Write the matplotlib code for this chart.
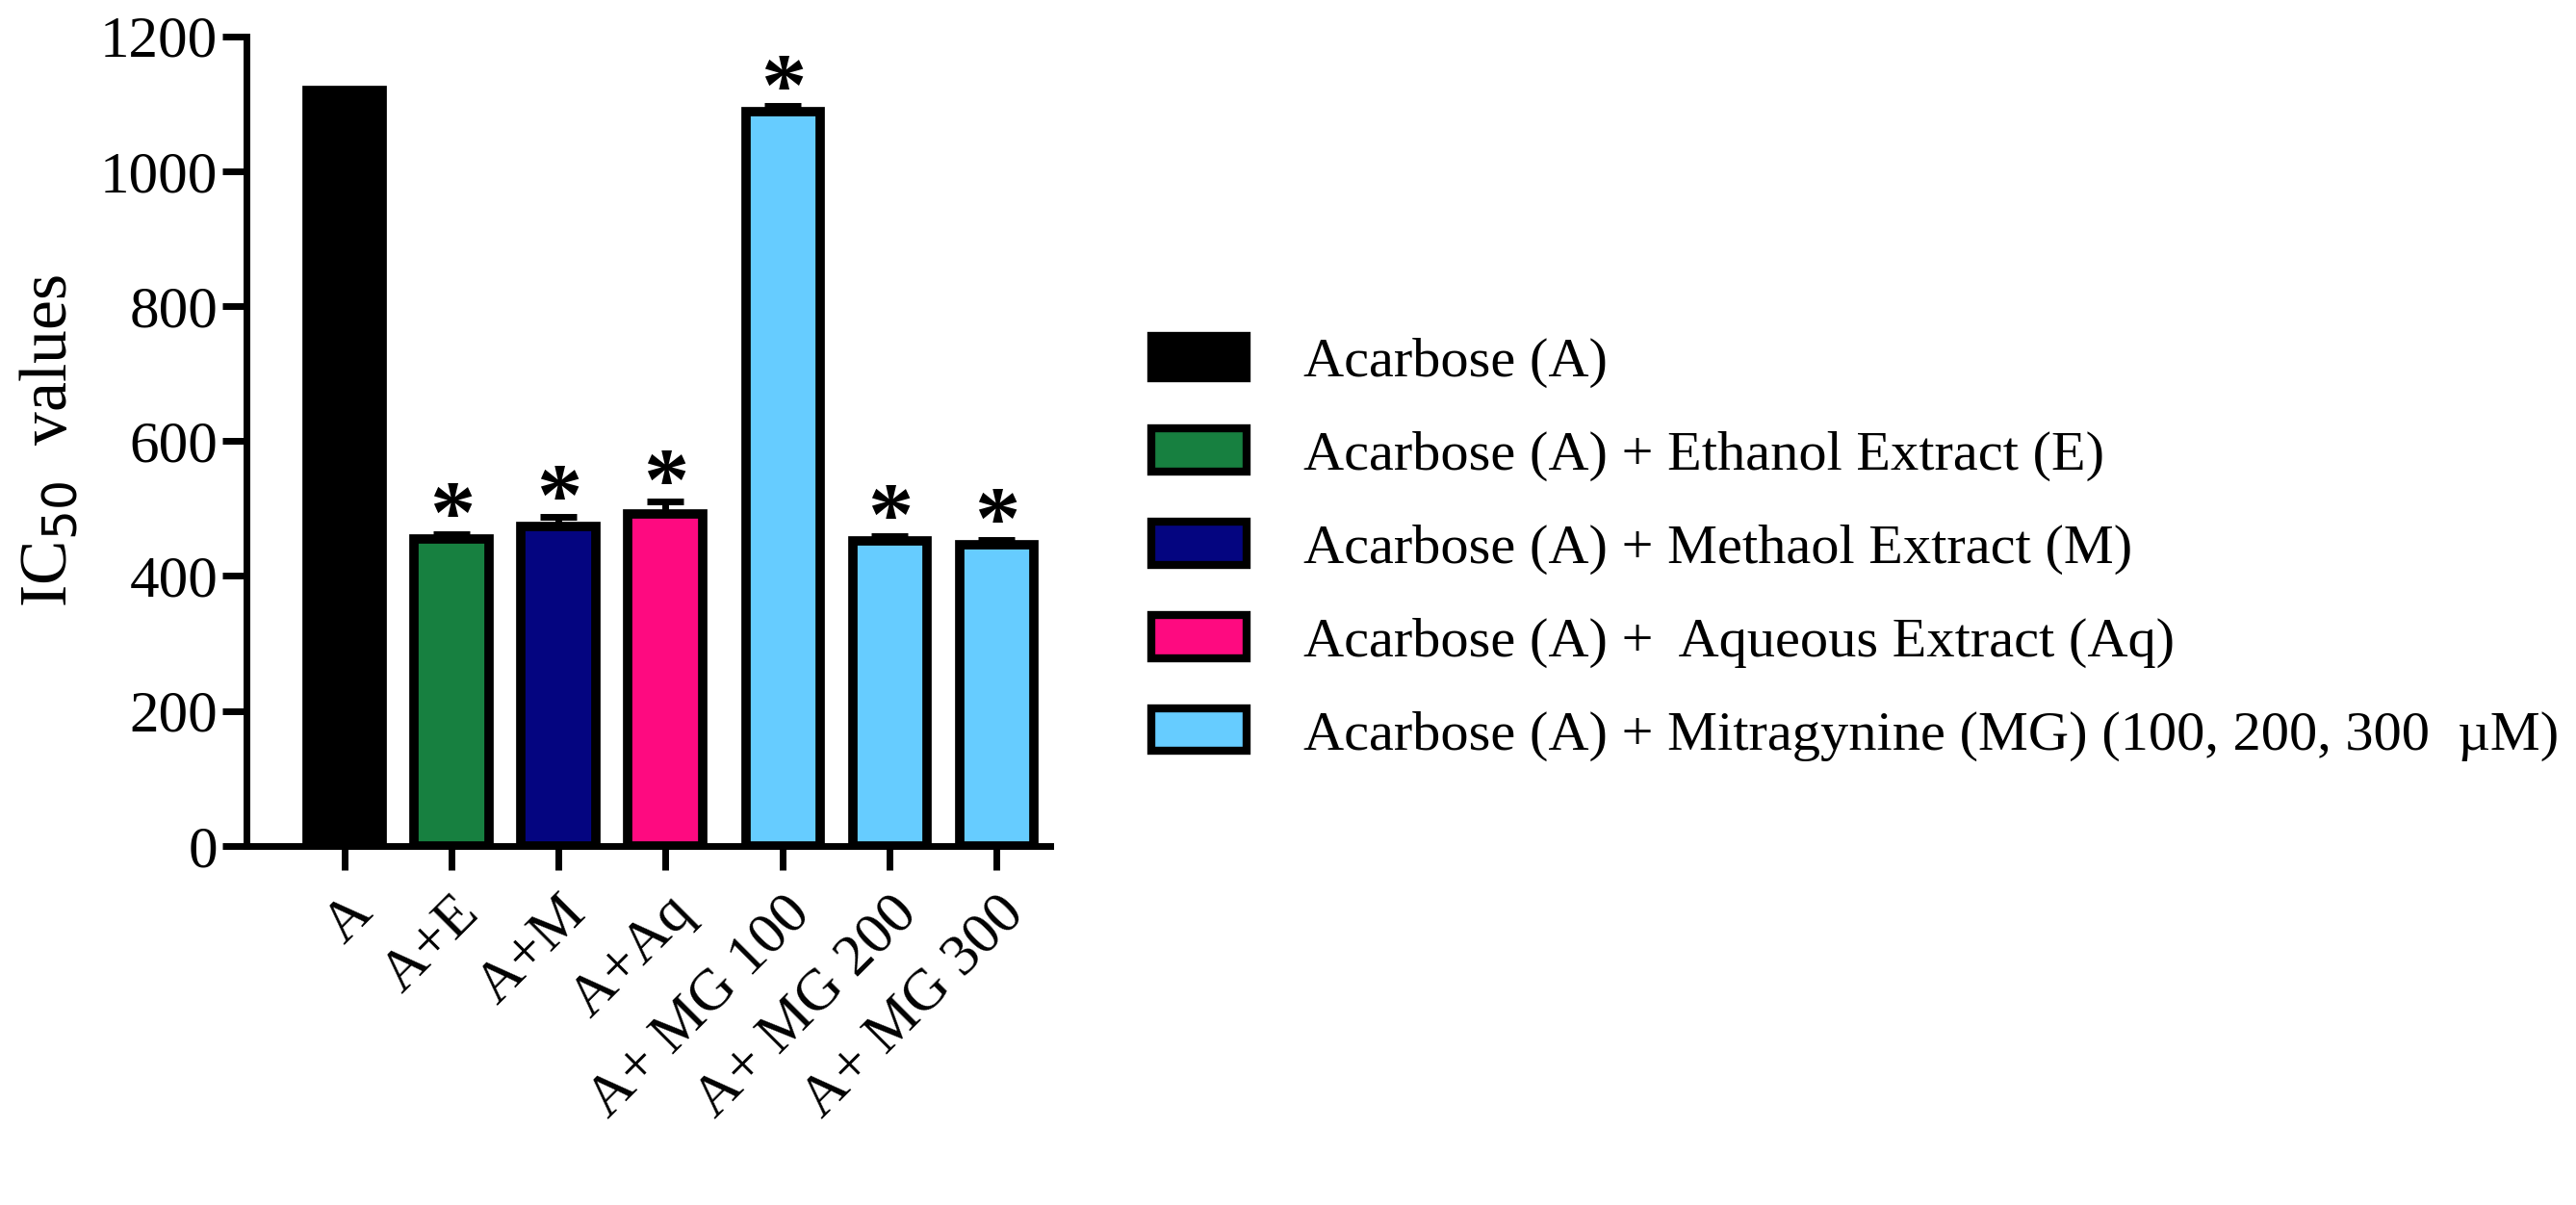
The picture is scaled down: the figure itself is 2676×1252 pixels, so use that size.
import matplotlib
matplotlib.use("Agg")
import matplotlib.pyplot as plt
from matplotlib.patches import Patch

categories = ["A", "A+E", "A+M", "A+Aq", "A+ MG 100", "A+ MG 200", "A+ MG 300"]
values = [1120, 455, 473, 492, 1088, 452, 447]
errors = [0, 7, 15, 18, 8, 7, 7]
stars = [False, True, True, True, True, True, True]
colors = ["#000000", "#178040", "#040580", "#FE0A80", "#66CCFF", "#66CCFF", "#66CCFF"]
positions = [0, 1, 2, 3, 4.1, 5.1, 6.1]
legend_labels = ["Acarbose (A)", "Acarbose (A) + Ethanol Extract (E)",
                 "Acarbose (A) + Methaol Extract (M)", "Acarbose (A) +  Aqueous Extract (Aq)",
                 "Acarbose (A) + Mitragynine (MG) (100, 200, 300  µM)"]
legend_colors = ["#000000", "#178040", "#040580", "#FE0A80", "#66CCFF"]

plt.rcParams['font.family'] = ['Liberation Serif', 'DejaVu Serif']
fig = plt.figure(figsize=(26.76, 12.52), dpi=100)
ax = fig.add_axes([0.0957, 0.298, 0.312, 0.672])
ax.bar(positions, values, width=0.7, color=colors, edgecolor="black", linewidth=7)
for x, v, e, s in zip(positions, values, errors, stars):
    if e:
        ax.errorbar(x, v, yerr=[[0], [e]], color="black", capsize=14, capthick=5, elinewidth=5)
    if s:
        ax.text(x, v + e - 40, "*", ha="center", va="bottom", fontsize=68, fontweight="bold")
ax.set_xlim(-0.92, 6.6)
ax.set_ylim(0, 1200)
ax.set_yticks(range(0, 1201, 200))
ax.set_xticks(positions)
ax.set_xticklabels(categories, rotation=45, ha="right", rotation_mode="anchor")
ax.tick_params(axis="both", labelsize=44, width=5, length=18, direction="out")
ax.tick_params(axis="x", pad=12)
for sp in ["top", "right"]:
    ax.spines[sp].set_visible(False)
for sp in ["left", "bottom"]:
    ax.spines[sp].set_linewidth(5)
ax.set_ylabel("IC$_{50}$  values", fontsize=50, labelpad=14)
handles = [Patch(facecolor=c, edgecolor="black", linewidth=6) for c in legend_colors]
fig.legend(handles, legend_labels, loc="center left", bbox_to_anchor=(0.447, 0.545),
           frameon=False, fontsize=42, handlelength=1.7, handleheight=0.8,
           labelspacing=0.72, handletextpad=1.0, borderaxespad=0, borderpad=0)
fig.savefig("out.png", dpi=100)
